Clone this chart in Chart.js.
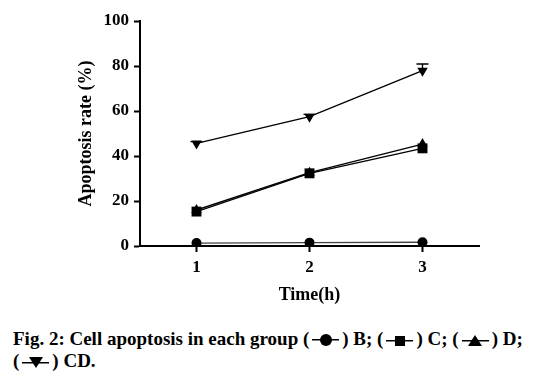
<!DOCTYPE html>
<html>
<head>
<meta charset="utf-8">
<script src="https://cdn.jsdelivr.net/npm/chart.js@4"></script>
<style>
    body { margin: 0; background: #fff; width: 534px; height: 377px; overflow: hidden; }
    #wrap { position: absolute; left: 0; top: 0; width: 534px; height: 308px; }
    #caption {
        position: absolute; left: 13px; top: 328px; width: 521px; white-space: nowrap;
        font-family: "Liberation Serif", "Times New Roman", serif;
        font-weight: bold; font-size: 19px; line-height: 22px; color: #000;
    }
    .sym {
        display: inline-flex; align-items: center; justify-content: center;
        width: 33px; height: 14px; vertical-align: -1px;
        background: linear-gradient(#000, #000) no-repeat center 50% / 82% 1.5px;
    }
    .sym i { display: block; }
    .dot { width: 12px; height: 12px; border-radius: 50%; background: #000; }
    .sq { width: 10px; height: 10px; background: #000; }
    .up { width: 0; height: 0; border-left: 7px solid transparent; border-right: 7px solid transparent; border-bottom: 11px solid #000; }
    .down { width: 0; height: 0; border-left: 7px solid transparent; border-right: 7px solid transparent; border-top: 11px solid #000; }
</style>
</head>
<body>
<div id="wrap"><canvas id="chart"></canvas></div>
<div id="caption">Fig. 2: Cell apoptosis in each group (<span class="sym"><i class="dot"></i></span>) B; (<span class="sym"><i class="sq"></i></span>) C; (<span class="sym"><i class="up"></i></span>) D;<br>(<span class="sym"><i class="down"></i></span>) CD.</div>
<script>
        const times = [1, 2, 3];
        const xTicks = [1, 2, 3];
        const yTicks = [0, 20, 40, 60, 80, 100];

        const groupB = [1.3, 1.5, 1.7];
        const groupC = [15.3, 32.3, 43.4];
        const groupD = [16.0, 32.6, 45.3];
        const groupCD = [45.6, 57.5, 77.9];
        const errCD = [0.8, 1.0, 3.0];

        const font = { family: '"Liberation Serif", "Times New Roman", serif', weight: 'bold', size: 17 };

        function series(label, values, style, rotation, radius, color) {
            return {
                label: label,
                data: values.map((v, i) => ({ x: times[i], y: v })),
                borderColor: color,
                backgroundColor: '#000',
                borderWidth: 1.4,
                pointStyle: style,
                pointRotation: rotation,
                pointRadius: radius,
                pointBorderWidth: 0,
                pointBackgroundColor: '#000',
                tension: 0
            };
        }

        // error bar for the CD group, drawn through the scales
        const errorBars = {
            id: 'errorBars',
            beforeDatasetsDraw(chart) {
                const ctx = chart.ctx;
                const xs = chart.scales.x, ys = chart.scales.y;
                ctx.save();
                ctx.strokeStyle = '#000';
                ctx.lineWidth = 1.4;
                groupCD.forEach((v, i) => {
                    const px = xs.getPixelForValue(times[i]);
                    const top = ys.getPixelForValue(v + errCD[i]);
                    const mid = ys.getPixelForValue(v);
                    ctx.beginPath();
                    ctx.moveTo(px, mid);
                    ctx.lineTo(px, top);
                    ctx.moveTo(px - 6, top);
                    ctx.lineTo(px + 6, top);
                    ctx.stroke();
                });
                ctx.restore();
            }
        };

        new Chart(document.getElementById('chart'), {
            type: 'line',
            data: {
                datasets: [
                    series('B', groupB, 'circle', 0, 5, '#444'),
                    series('C', groupC, 'rect', 0, 7, '#000'),
                    series('D', groupD, 'triangle', 0, 6, '#000'),
                    series('CD', groupCD, 'triangle', 180, 6, '#000')
                ]
            },
            options: {
                responsive: true,
                maintainAspectRatio: false,
                animation: false,
                layout: { padding: { top: 21, right: 55, left: 0, bottom: 0 } },
                plugins: { legend: { display: false }, tooltip: { enabled: false } },
                scales: {
                    x: {
                        type: 'linear',
                        min: 0.5,
                        max: 3.5,
                        afterBuildTicks: s => { s.ticks = xTicks.map(v => ({ value: v })); },
                        afterFit: s => { s.height = 62; },
                        grid: { display: true, drawOnChartArea: false, tickLength: 6, tickWidth: 2, tickColor: '#000' },
                        border: { color: '#000', width: 2 },
                        ticks: { color: '#000', font: font, padding: 5, maxRotation: 0 },
                        title: { display: true, text: 'Time(h)', color: '#000', font: { ...font, size: 18 }, padding: { top: 0, bottom: 2 } }
                    },
                    y: {
                        min: 0,
                        max: 100,
                        afterBuildTicks: s => { s.ticks = yTicks.map(v => ({ value: v })); },
                        afterFit: s => { s.width = 140; },
                        grid: { display: true, drawOnChartArea: false, tickLength: 6, tickWidth: 2, tickColor: '#000' },
                        border: { color: '#000', width: 2 },
                        ticks: { color: '#000', font: font, padding: 5 },
                        title: { display: true, text: 'Apoptosis rate (%)', color: '#000', font: { ...font, size: 18 }, padding: { top: 76, bottom: 0 } }
                    }
                }
            },
            plugins: [errorBars]
        });
</script>
</body>
</html>
